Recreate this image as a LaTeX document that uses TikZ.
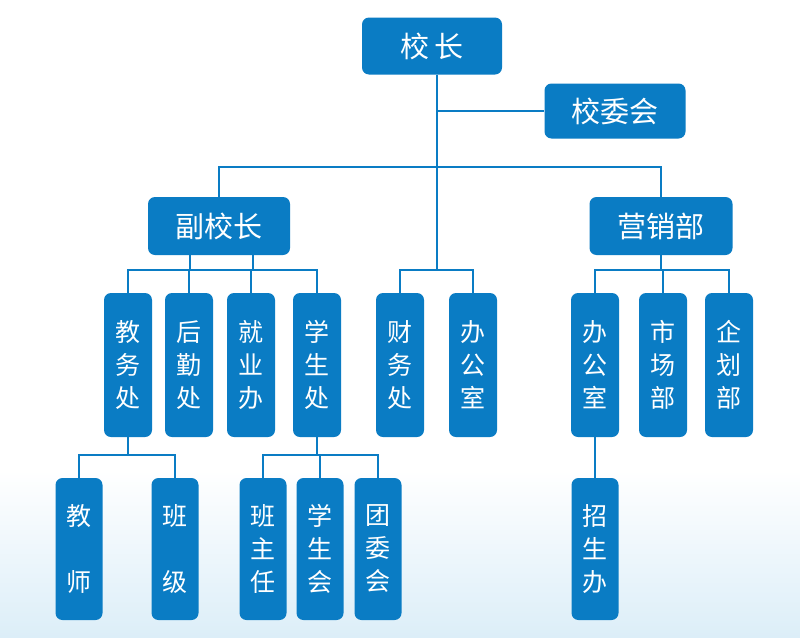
\documentclass[tikz,border=0pt]{standalone}
\usepackage{fontspec}
\newfontfamily\cjk{Noto Sans CJK SC}
\definecolor{boxblue}{HTML}{0A7CC4}
\definecolor{skyblue}{HTML}{DCEEF8}
\begin{document}
\begin{tikzpicture}[x=1pt, y=-1pt]
	\tikzstyle{every node}=[font=\cjk]
	\tikzstyle{hbox}=[fill=boxblue, rounded corners=7pt, text=white, inner sep=0pt, minimum height=57pt, font=\cjk\fontsize{29}{34}\selectfont]
	\tikzstyle{vbox}=[fill=boxblue, rounded corners=7pt, text=white, inner sep=0pt, minimum width=48pt, align=center, font=\cjk\fontsize{25}{33}\selectfont]
	\tikzstyle{link}=[draw=boxblue, line width=2.2pt]

	% background
	\useasboundingbox (0,0) rectangle (800,637);
	\fill[white] (0,0) rectangle (800,637);
	\shade[top color=white, bottom color=skyblue] (0,470) rectangle (800,637);

	% top levels
	\node[hbox, minimum width=140pt] (head) at (432,46) {校\,长};
	\node[hbox, minimum width=141pt, minimum height=55pt] (board) at (615,111) {校委会};
	\node[hbox, minimum width=142pt, minimum height=58pt] (vice) at (219,226) {副校长};
	\node[hbox, minimum width=143pt, minimum height=58pt] (sales) at (661,226) {营销部};

	% middle row
	\foreach \name/\x/\txt in {jwc/128/教\\务\\处, hqc/189/后\\勤\\处, jyb/251/就\\业\\办, xsc/317/学\\生\\处,
		cwc/400/财\\务\\处, bgs/473/办\\公\\室, ybgs/595/办\\公\\室, scb/663/市\\场\\部, qhb/729/企\\划\\部}
		\node[vbox, minimum height=144pt] (\name) at (\x,365) {\txt};

	% bottom row
	\foreach \name/\x/\txt in {js/79/教\\\\师, bj/175/班\\\\级, bzr/263/班\\主\\任, xsh/320/学\\生\\会,
		twh/378/团\\委\\会, zsb/595/招\\生\\办}
		\node[vbox, minimum height=142pt, minimum width=47pt] (\name) at (\x,549) {\txt};

	% connectors
	\coordinate (trunk) at (437,270);
	\draw[link] (head.south -| trunk) -- (trunk);
	\draw[link] (437,111) -- (board.west);
	\draw[link] (vice.north) |- (437,167) -| (sales.north);
	\draw[link] (cwc.north) |- (trunk) -| (bgs.north);

	\draw[link] (190,255) -- (190,270) (253,255) -- (253,270);
	\draw[link] (jwc.north) |- (190,270) -- (253,270) -| (xsc.north);
	\draw[link] (hqc.north) -- (hqc.north |- 0,270) (jyb.north) -- (jyb.north |- 0,270);

	\draw[link] (sales.south) -- (sales.south |- 0,270);
	\draw[link] (ybgs.north) |- (sales.south |- 0,270) -| (qhb.north);
	\draw[link] (scb.north) -- (scb.north |- 0,270);

	\draw[link] (jwc.south) -- (jwc.south |- 0,455);
	\draw[link] (js.north) |- (jwc.south |- 0,455) -| (bj.north);
	\draw[link] (xsc.south) -- (xsc.south |- 0,455);
	\draw[link] (bzr.north) |- (xsc.south |- 0,455) -| (twh.north);
	\draw[link] (xsh.north) -- (xsh.north |- 0,455);
	\draw[link] (ybgs.south) -- (zsb.north);
\end{tikzpicture}
\end{document}
